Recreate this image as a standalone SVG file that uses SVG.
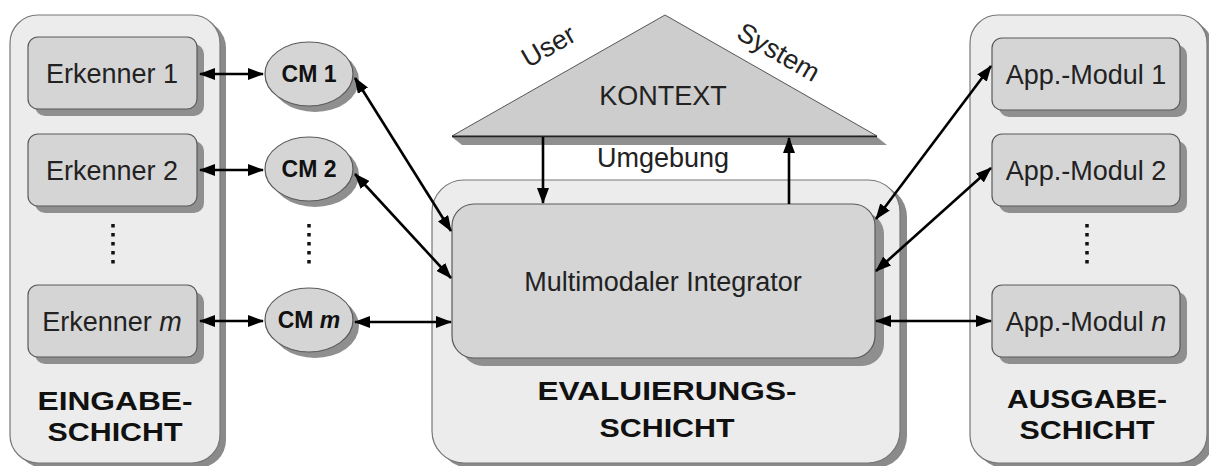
<svg xmlns="http://www.w3.org/2000/svg" width="1209" height="466" viewBox="0 0 1209 466">
<defs>
<style>
.panel{fill:#ececec;stroke:#777;stroke-width:1.2}
.pshadow{fill:#8a8a8a}
.box{fill:#d5d5d5;stroke:#5a5a5a;stroke-width:1.2}
.bshadow{fill:#8f8f8f}
.lbl{font-family:"Liberation Sans",Arial,sans-serif;font-size:27px;fill:#222;text-anchor:middle}
.cm{font-family:"Liberation Sans",Arial,sans-serif;font-size:23px;font-weight:bold;fill:#111;text-anchor:middle}
.layer{font-family:"Liberation Sans",Arial,sans-serif;font-size:26px;font-weight:bold;fill:#111;text-anchor:middle}
.conn{stroke:#000;stroke-width:2.6;fill:none}
.dots{stroke:#111;stroke-width:3.5;stroke-dasharray:3.5 5.5;fill:none}
</style>
<marker id="ah" viewBox="0 0 16 12" refX="15" refY="6" markerWidth="16" markerHeight="12" markerUnits="userSpaceOnUse" orient="auto-start-reverse">
<path d="M0,0 L16,6 L0,12 Z" fill="#000"/>
</marker>
</defs>

<g id="eingabe-schicht">
<rect class="pshadow" x="16" y="20" width="210" height="448" rx="28"/>
<rect class="panel" x="10" y="15" width="210" height="448" rx="28"/>
<text class="layer" x="115" y="410" textLength="155" lengthAdjust="spacingAndGlyphs">EINGABE-</text>
<text class="layer" x="115" y="441" textLength="135" lengthAdjust="spacingAndGlyphs">SCHICHT</text>
</g>

<g id="erkenner1">
<rect class="bshadow" x="35" y="44" width="169" height="72" rx="10"/>
<rect class="box" x="28" y="37" width="169" height="72" rx="10"/>
<text class="lbl" x="112" y="83">Erkenner 1</text>
</g>
<g id="erkenner2">
<rect class="bshadow" x="35" y="141" width="169" height="72" rx="10"/>
<rect class="box" x="28" y="134" width="169" height="72" rx="10"/>
<text class="lbl" x="112" y="180">Erkenner 2</text>
</g>
<g id="erkenner-dots"><line class="dots" x1="113" y1="224" x2="113" y2="268"/></g>
<g id="erkennerm">
<rect class="bshadow" x="35" y="292" width="169" height="72" rx="10"/>
<rect class="box" x="28" y="285" width="169" height="72" rx="10"/>
<text class="lbl" x="112" y="331">Erkenner <tspan font-style="italic">m</tspan></text>
</g>

<g id="cm1">
<ellipse class="bshadow" cx="315" cy="80" rx="44" ry="32"/>
<ellipse class="box" cx="309" cy="74" rx="44" ry="32"/>
<text class="cm" x="309" y="82">CM 1</text>
</g>
<g id="cm2">
<ellipse class="bshadow" cx="315" cy="175" rx="44" ry="32"/>
<ellipse class="box" cx="309" cy="169" rx="44" ry="32"/>
<text class="cm" x="309" y="177">CM 2</text>
</g>
<g id="cm-dots"><line class="dots" x1="309" y1="224" x2="309" y2="268"/></g>
<g id="cmm">
<ellipse class="bshadow" cx="315" cy="326" rx="44" ry="32"/>
<ellipse class="box" cx="309" cy="320" rx="44" ry="32"/>
<text class="cm" x="309" y="328">CM <tspan font-style="italic">m</tspan></text>
</g>

<g id="kontext">
<polygon fill="#8f8f8f" points="462,145 887,145 877,137 452,137"/>
<polygon fill="#cdcdcd" stroke="#555" stroke-width="1" points="665,15 877,136 452,136"/>
<line x1="452" y1="136.5" x2="877" y2="136.5" stroke="#222" stroke-width="1.5"/>
<text class="lbl" x="663" y="105" font-size="29">KONTEXT</text>
<text class="lbl" x="0" y="0" transform="translate(553,54) rotate(-30)">User</text>
<text class="lbl" x="0" y="0" transform="translate(774,60) rotate(30)">System</text>
</g>
<g id="umgebung"><text class="lbl" x="663" y="167" font-size="26">Umgebung</text></g>

<g id="evaluierungs-schicht">
<rect class="pshadow" x="438" y="185" width="469" height="283" rx="32"/>
<rect class="panel" x="432" y="180" width="468" height="283" rx="32"/>
<text class="layer" x="667" y="400" textLength="259" lengthAdjust="spacingAndGlyphs">EVALUIERUNGS-</text>
<text class="layer" x="667" y="437" textLength="135" lengthAdjust="spacingAndGlyphs">SCHICHT</text>
</g>

<g id="integrator">
<rect class="bshadow" x="461" y="212" width="423" height="154" rx="22"/>
<rect class="box" x="452" y="204" width="423" height="154" rx="22"/>
<text class="lbl" x="663" y="291">Multimodaler Integrator</text>
</g>

<g id="ausgabe-schicht">
<rect class="pshadow" x="976" y="20" width="237" height="448" rx="28"/>
<rect class="panel" x="970" y="15" width="237" height="448" rx="28"/>
<text class="layer" x="1087" y="408" textLength="160" lengthAdjust="spacingAndGlyphs">AUSGABE-</text>
<text class="layer" x="1087" y="439" textLength="135" lengthAdjust="spacingAndGlyphs">SCHICHT</text>
</g>

<g id="app1">
<rect class="bshadow" x="999" y="45" width="188" height="72" rx="10"/>
<rect class="box" x="992" y="38" width="188" height="72" rx="10"/>
<text class="lbl" x="1086" y="84">App.-Modul 1</text>
</g>
<g id="app2">
<rect class="bshadow" x="999" y="141" width="188" height="72" rx="10"/>
<rect class="box" x="992" y="134" width="188" height="72" rx="10"/>
<text class="lbl" x="1086" y="180">App.-Modul 2</text>
</g>
<g id="app-dots"><line class="dots" x1="1087" y1="224" x2="1087" y2="268"/></g>
<g id="appn">
<rect class="bshadow" x="999" y="292" width="188" height="72" rx="10"/>
<rect class="box" x="992" y="285" width="188" height="72" rx="10"/>
<text class="lbl" x="1086" y="331">App.-Modul <tspan font-style="italic">n</tspan></text>
</g>

<g id="connectors">
<line class="conn" x1="200" y1="74" x2="263" y2="74" marker-start="url(#ah)" marker-end="url(#ah)"/>
<line class="conn" x1="200" y1="170" x2="263" y2="170" marker-start="url(#ah)" marker-end="url(#ah)"/>
<line class="conn" x1="200" y1="321" x2="263" y2="321" marker-start="url(#ah)" marker-end="url(#ah)"/>
<line class="conn" x1="355" y1="78" x2="451" y2="231" marker-start="url(#ah)" marker-end="url(#ah)"/>
<line class="conn" x1="355" y1="174" x2="451" y2="278" marker-start="url(#ah)" marker-end="url(#ah)"/>
<line class="conn" x1="355" y1="322" x2="451" y2="322" marker-start="url(#ah)" marker-end="url(#ah)"/>
<line class="conn" x1="876" y1="219" x2="991" y2="66" marker-start="url(#ah)" marker-end="url(#ah)"/>
<line class="conn" x1="876" y1="271" x2="991" y2="168" marker-start="url(#ah)" marker-end="url(#ah)"/>
<line class="conn" x1="876" y1="321" x2="991" y2="321" marker-start="url(#ah)" marker-end="url(#ah)"/>
<line class="conn" x1="543" y1="137" x2="543" y2="203" stroke-width="2" marker-end="url(#ah)"/>
<line class="conn" x1="789" y1="204" x2="789" y2="138" stroke-width="3" marker-end="url(#ah)"/>
</g>
</svg>
